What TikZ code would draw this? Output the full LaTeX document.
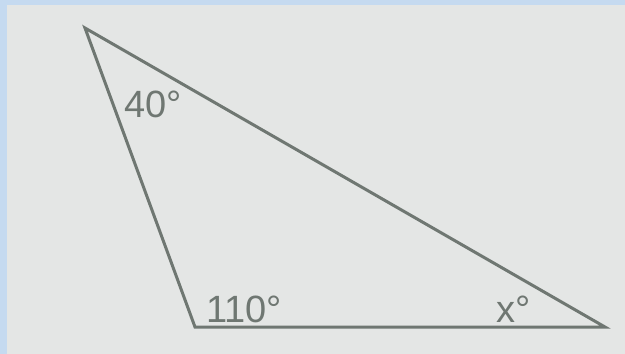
\documentclass[tikz,border=0pt]{standalone}
\usepackage{fontspec}
\setmainfont{Liberation Sans}
\usetikzlibrary{positioning}
\definecolor{bc}{RGB}{197,218,240}
\definecolor{gc}{RGB}{228,230,229}
\definecolor{lc}{RGB}{111,119,114}
\tikzset{side/.style={draw=lc,line width=3pt,line join=miter},
 ang/.style={anchor=base west,inner sep=0pt,text=lc,font=\fontsize{38}{40}\selectfont}}
\begin{document}
\begin{tikzpicture}[x=1pt,y=-1pt]
\fill[bc] (0,0) rectangle (625,354);
\fill[gc] (7,5) rectangle (625,354);
\useasboundingbox (0,0) rectangle (625,354);
\coordinate (A) at (85,28);\coordinate (B) at (195,327);\coordinate (C) at (605,327);
\draw[side] (A)--(B)--(C)--cycle;
\node[ang] (a) at (124,117) {40°};
\node[ang] (b) at (206,322) {110°};
\node[ang] (c) at (496,322) {x°};
\end{tikzpicture}
\end{document}
